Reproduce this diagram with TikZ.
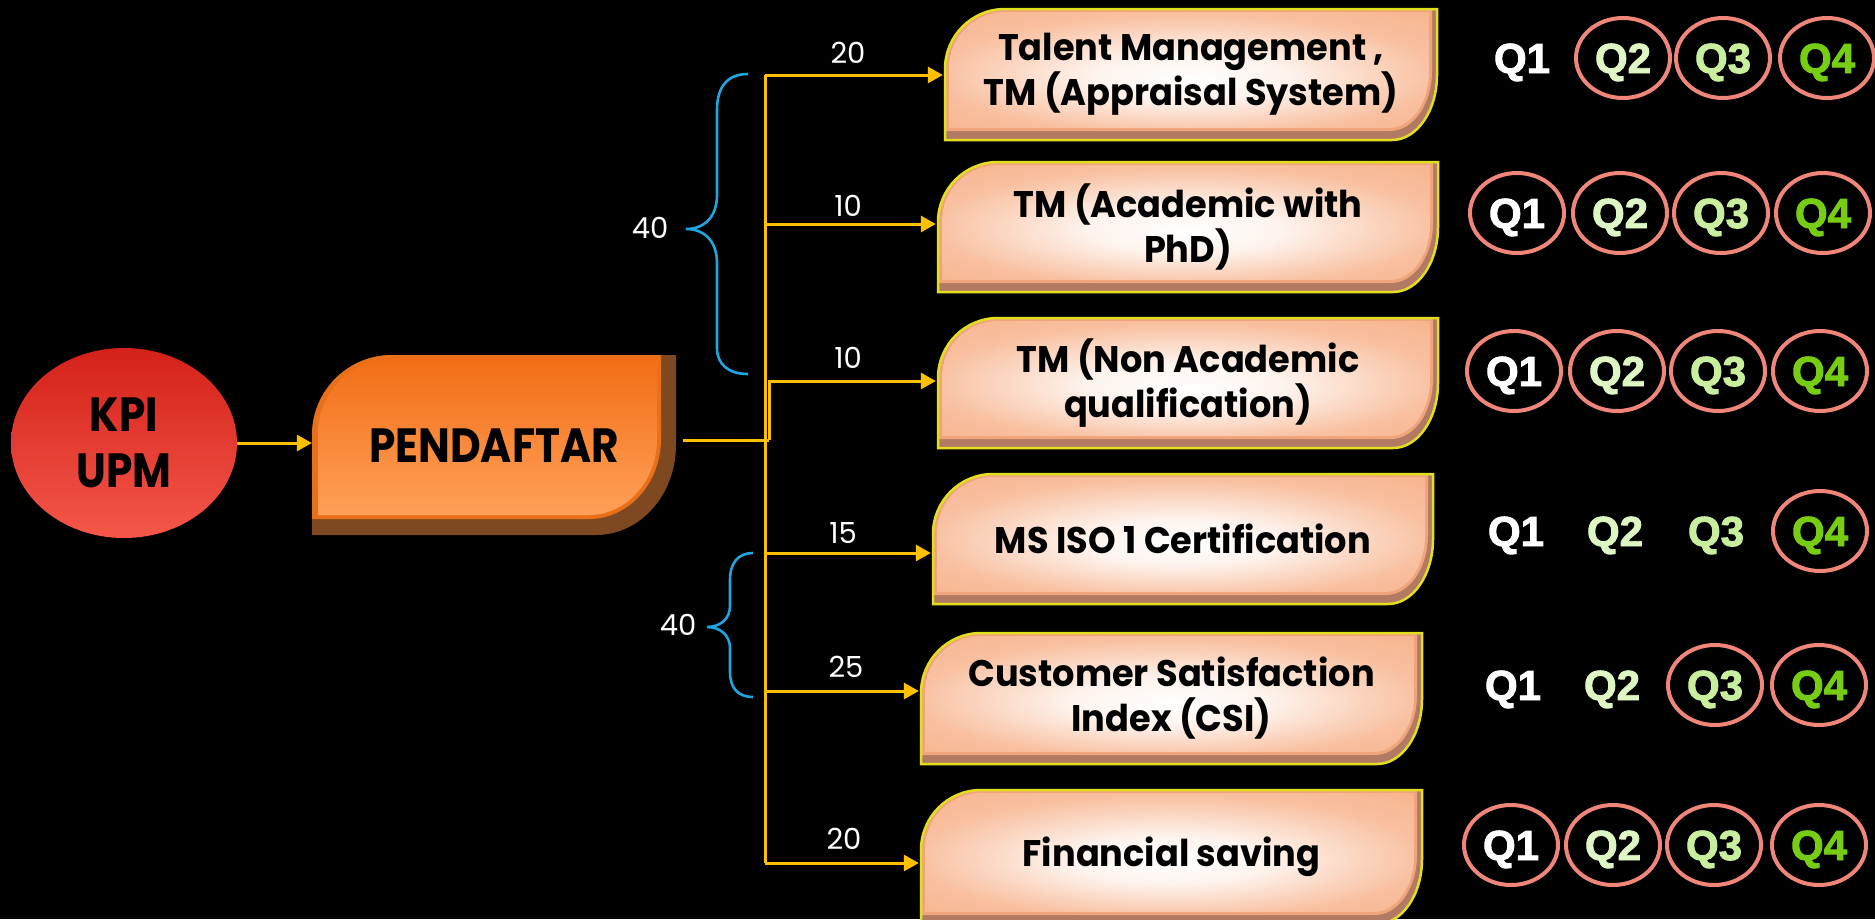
\documentclass[tikz,border=0pt]{standalone}
\usepackage{fontspec}
\setmainfont{Poppins}
\newfontfamily\boxfont{Poppins}[FakeStretch=0.95]
\newfontfamily\condfont{Poppins}[FakeStretch=0.88]
\newfontfamily\qfont{Liberation Sans}[BoldFeatures={FakeBold=2.2}]
\usetikzlibrary{arrows.meta,shapes.geometric,calc}

\definecolor{amber}{HTML}{FFC000}
\definecolor{bracecol}{HTML}{1EA6DF}
\definecolor{ringcol}{HTML}{F0857A}
\definecolor{qtwo}{HTML}{DDF6C4}
\definecolor{qthree}{HTML}{C8EE9E}
\definecolor{qfour}{HTML}{77CC14}
\definecolor{peach}{HTML}{F7B088}
\definecolor{peachedge}{HTML}{EFA47C}
\definecolor{bevelpink}{HTML}{B27A62}
\definecolor{rim}{HTML}{E3DF1F}
\definecolor{orangeA}{HTML}{F26E16}
\definecolor{orangeB}{HTML}{FFA058}
\definecolor{orangeEdge}{HTML}{E8701A}
\definecolor{brownbevel}{HTML}{7E4820}
\definecolor{redA}{HTML}{D42119}
\definecolor{redB}{HTML}{F4574A}

% soft white glow in the middle of the peach boxes
\pgfdeclareradialshading{peachglow}{\pgfpoint{0bp}{-4bp}}{%
  color(0bp)=(white); color(10bp)=(white!85!peach);
  color(26bp)=(peach!80!white); color(40bp)=(peach); color(50bp)=(peach)}

% tab outline: x0,y0 (top-left), x1,y1 (bottom-right), top-left radius,
% bottom-right vertical radius, bottom-right horizontal radius (y grows downward)
\newcommand\tabpath[7]{({#1},{-(#4)}) -- ({#1},{-(#2)-(#5)})
  arc[start angle=180,end angle=90,radius={#5}] -- ({#3},{-(#2)})
  -- ({#3},{-(#4)+(#6)})
  arc[start angle=0,end angle=-90,x radius={#7},y radius={#6}] -- cycle}

% bevelled peach box with its label node
\newcommand\tabbox[6]{%
  \fill[bevelpink] \tabpath{#2}{#3}{#4}{#5}{60}{65}{45};
  \fill[peachedge] \tabpath{#2}{#3}{(#4)-5}{(#5)-9}{59}{60}{42};
  \shade[shading=peachglow]
    \tabpath{(#2)+4}{(#3)+3}{(#4)-8}{(#5)-12}{56}{56}{40};
  \draw[rim, line width=2.5pt] \tabpath{#2}{#3}{#4}{#5}{60}{65}{45};
  \node[boxtext, minimum width={(#4)-(#2)}, minimum height={(#5)-(#3)}]
    (#1) at ({((#2)+(#4))/2},{-((#3)+(#5))/2}) {#6};
}

\begin{document}
\begin{tikzpicture}[x=1pt,y=1pt,
  ln/.style={draw=amber, line width=3pt},
  arr/.style={ln, -{Triangle[length=15pt,width=16pt]}, shorten >=2pt},
  brace/.style={draw=bracecol, line width=2.6pt},
  num/.style={text=white, inner sep=0pt, font=\fontsize{29}{29}\selectfont},
  boxtext/.style={align=center, text=black, inner sep=0pt,
    font=\boxfont\bfseries\fontsize{37}{45}\selectfont},
  qbase/.style={ellipse, minimum width=94pt, minimum height=80pt, inner sep=0pt,
    text height=30pt, text depth=0pt, font=\qfont\bfseries\fontsize{42}{42}\selectfont},
  qring/.style={qbase, draw=ringcol, line width=4pt},
  qplain/.style={qbase}]

\fill[black] (0,0) rectangle (1875,-919);
\useasboundingbox (0,0) rectangle (1875,-919);

% KPI UPM
\node[ellipse, minimum width=226pt, minimum height=190pt, inner sep=0pt,
  top color=redA, bottom color=redB, align=center, text=black,
  font=\condfont\bfseries\fontsize{48}{56}\selectfont] (kpi) at (124,-443) {KPI\\UPM};

% PENDAFTAR block
\fill[brownbevel] \tabpath{312}{355}{676}{535}{80}{90}{80};
\fill[orangeEdge] \tabpath{312}{355}{661}{519}{80}{80}{72};
\shade[top color=orangeA, bottom color=orangeB] \tabpath{318}{358}{657}{515}{76}{76}{68};
\node[minimum width=364pt, minimum height=180pt, inner sep=0pt, text=black,
  font=\condfont\bfseries\fontsize{48}{56}\selectfont] (pend) at (494,-446) {PENDAFTAR};

\draw[arr, shorten >=0pt] (kpi.east) -- (kpi.east -| pend.west);

% indicator boxes
\tabbox{b1}{945}{9}{1437}{140}{Talent Management ,\\TM (Appraisal System)}
\tabbox{b2}{938}{162}{1438}{292}{TM (Academic with\\PhD)}
\tabbox{b3}{938}{318}{1438}{448}{TM (Non Academic\\qualification)}
\tabbox{b4}{933}{474}{1433}{604}{MS ISO 1 Certification}
\tabbox{b5}{921}{633}{1422}{764}{Customer Satisfaction\\Index (CSI)}
\tabbox{b6}{921}{790}{1422}{924}{Financial saving}

% distribution lines
\coordinate (t1) at (765,-75);
\coordinate (t2) at (765,-224);
\coordinate (t3) at (769,-381);
\coordinate (hub) at (769,-440);
\coordinate (t4) at (765,-553);
\coordinate (t5) at (765,-691);
\coordinate (t6) at (765,-863);

\draw[ln] ([xshift=7pt]pend.east |- hub) -- (hub);
\draw[ln] (t1) -- (t6);
\draw[arr] (t1) -- (t1 -| b1.west);
\draw[arr] (t2) -- (t2 -| b2.west);
\draw[arr] (hub) -- (t3) -- (t3 -| b3.west);
\draw[arr] (t4) -- (t4 -| b4.west);
\draw[arr] (t5) -- (t5 -| b5.west);
\draw[arr] (t6) -- (t6 -| b6.west);

% weights
\node[num] (w1) at (848,-53) {20};
\node[num] (w2) at (848,-206) {10};
\node[num] (w3) at (848,-358) {10};
\node[num] (w4) at (843,-533) {15};
\node[num] (w5) at (846,-667) {25};
\node[num] (w6) at (844,-839) {20};

% group braces
\draw[brace] (748,-74) .. controls (728,-74) and (717,-86) .. (717,-110)
  -- (717,-195) .. controls (717,-216) and (705,-229) .. (686,-229)
  .. controls (705,-229) and (717,-242) .. (717,-263)
  -- (717,-348) .. controls (717,-364) and (728,-374) .. (748,-374);
\node[num] (g1) at (650,-228) {40};

\draw[brace] (753,-553) .. controls (738,-553) and (730,-563) .. (730,-580)
  -- (730,-606) .. controls (730,-619) and (720,-627) .. (707,-627)
  .. controls (720,-627) and (730,-635) .. (730,-648)
  -- (730,-672) .. controls (730,-688) and (738,-697) .. (753,-697);
\node[num] (g2) at (678,-625) {40};

% quarter markers
\foreach \r/\y/\a/\b/\c/\d/\sa/\sb/\sc/\sd in {
  1/58/1522/1623/1723/1827/qplain/qring/qring/qring,
  2/213/1517/1620/1721/1823/qring/qring/qring/qring,
  3/371/1514/1617/1718/1820/qring/qring/qring/qring,
  4/531/1516/1615/1716/1820/qplain/qplain/qplain/qring,
  5/685/1513/1612/1715/1819/qplain/qplain/qring/qring,
  6/845/1511/1613/1714/1819/qring/qring/qring/qring}{
  \node[\sa, text=white]  (q\r a) at (\a,-\y) {Q1};
  \node[\sb, text=qtwo]   (q\r b) at (\b,-\y) {Q2};
  \node[\sc, text=qthree] (q\r c) at (\c,-\y) {Q3};
  \node[\sd, text=qfour]  (q\r d) at (\d,-\y) {Q4};
}
\end{tikzpicture}
\end{document}
